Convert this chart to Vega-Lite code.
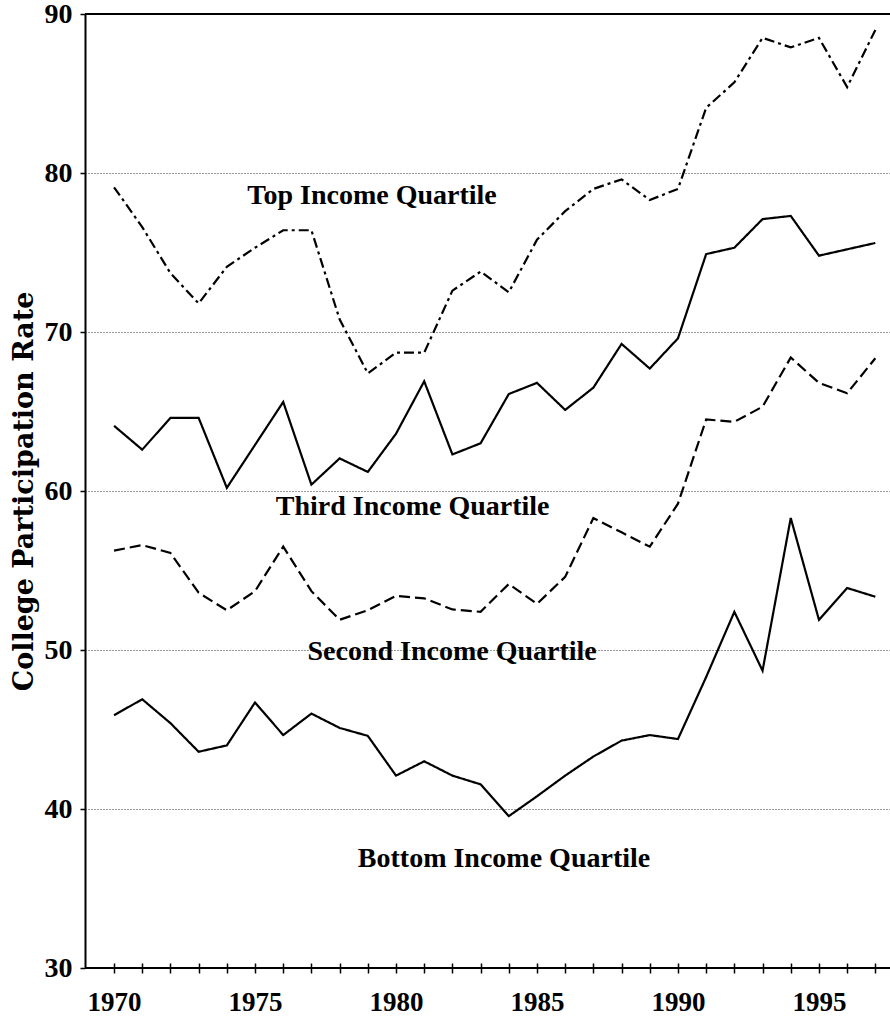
{
  "$schema": "https://vega.github.io/schema/vega-lite/v6.json",
  "width": 805,
  "height": 954,
  "autosize": {"type": "none"},
  "padding": {"left": 85, "top": 14, "right": 0, "bottom": 54},
  "background": "white",
  "config": {"view": {"stroke": null}, "axis": {"labelOverlap": false, "labelFlush": false}},
  "resolve": {"axis": {"x": "independent"}},
  "datasets": {
    "series": [
      {"year": 1970, "q": "Top", "rate": 79.1},
      {"year": 1971, "q": "Top", "rate": 76.6},
      {"year": 1972, "q": "Top", "rate": 73.7},
      {"year": 1973, "q": "Top", "rate": 71.8},
      {"year": 1974, "q": "Top", "rate": 74.1},
      {"year": 1975, "q": "Top", "rate": 75.3},
      {"year": 1976, "q": "Top", "rate": 76.4},
      {"year": 1977, "q": "Top", "rate": 76.4},
      {"year": 1978, "q": "Top", "rate": 70.8},
      {"year": 1979, "q": "Top", "rate": 67.4},
      {"year": 1980, "q": "Top", "rate": 68.7},
      {"year": 1981, "q": "Top", "rate": 68.7},
      {"year": 1982, "q": "Top", "rate": 72.6},
      {"year": 1983, "q": "Top", "rate": 73.8},
      {"year": 1984, "q": "Top", "rate": 72.5},
      {"year": 1985, "q": "Top", "rate": 75.8},
      {"year": 1986, "q": "Top", "rate": 77.6},
      {"year": 1987, "q": "Top", "rate": 79.0},
      {"year": 1988, "q": "Top", "rate": 79.6},
      {"year": 1989, "q": "Top", "rate": 78.3},
      {"year": 1990, "q": "Top", "rate": 79.0},
      {"year": 1991, "q": "Top", "rate": 84.1},
      {"year": 1992, "q": "Top", "rate": 85.7},
      {"year": 1993, "q": "Top", "rate": 88.5},
      {"year": 1994, "q": "Top", "rate": 87.9},
      {"year": 1995, "q": "Top", "rate": 88.5},
      {"year": 1996, "q": "Top", "rate": 85.4},
      {"year": 1997, "q": "Top", "rate": 89.0},
      {"year": 1970, "q": "Third", "rate": 64.1},
      {"year": 1971, "q": "Third", "rate": 62.6},
      {"year": 1972, "q": "Third", "rate": 64.6},
      {"year": 1973, "q": "Third", "rate": 64.6},
      {"year": 1974, "q": "Third", "rate": 60.2},
      {"year": 1975, "q": "Third", "rate": 62.9},
      {"year": 1976, "q": "Third", "rate": 65.6},
      {"year": 1977, "q": "Third", "rate": 60.4},
      {"year": 1978, "q": "Third", "rate": 62.05},
      {"year": 1979, "q": "Third", "rate": 61.2},
      {"year": 1980, "q": "Third", "rate": 63.6},
      {"year": 1981, "q": "Third", "rate": 66.9},
      {"year": 1982, "q": "Third", "rate": 62.3},
      {"year": 1983, "q": "Third", "rate": 63.0},
      {"year": 1984, "q": "Third", "rate": 66.1},
      {"year": 1985, "q": "Third", "rate": 66.8},
      {"year": 1986, "q": "Third", "rate": 65.1},
      {"year": 1987, "q": "Third", "rate": 66.5},
      {"year": 1988, "q": "Third", "rate": 69.25},
      {"year": 1989, "q": "Third", "rate": 67.7},
      {"year": 1990, "q": "Third", "rate": 69.6},
      {"year": 1991, "q": "Third", "rate": 74.9},
      {"year": 1992, "q": "Third", "rate": 75.3},
      {"year": 1993, "q": "Third", "rate": 77.1},
      {"year": 1994, "q": "Third", "rate": 77.3},
      {"year": 1995, "q": "Third", "rate": 74.8},
      {"year": 1996, "q": "Third", "rate": 75.2},
      {"year": 1997, "q": "Third", "rate": 75.6},
      {"year": 1970, "q": "Second", "rate": 56.25},
      {"year": 1971, "q": "Second", "rate": 56.6},
      {"year": 1972, "q": "Second", "rate": 56.1},
      {"year": 1973, "q": "Second", "rate": 53.6},
      {"year": 1974, "q": "Second", "rate": 52.5},
      {"year": 1975, "q": "Second", "rate": 53.7},
      {"year": 1976, "q": "Second", "rate": 56.5},
      {"year": 1977, "q": "Second", "rate": 53.7},
      {"year": 1978, "q": "Second", "rate": 51.9},
      {"year": 1979, "q": "Second", "rate": 52.5},
      {"year": 1980, "q": "Second", "rate": 53.4},
      {"year": 1981, "q": "Second", "rate": 53.25},
      {"year": 1982, "q": "Second", "rate": 52.55},
      {"year": 1983, "q": "Second", "rate": 52.4},
      {"year": 1984, "q": "Second", "rate": 54.15},
      {"year": 1985, "q": "Second", "rate": 52.9},
      {"year": 1986, "q": "Second", "rate": 54.6},
      {"year": 1987, "q": "Second", "rate": 58.3},
      {"year": 1988, "q": "Second", "rate": 57.4},
      {"year": 1989, "q": "Second", "rate": 56.5},
      {"year": 1990, "q": "Second", "rate": 59.2},
      {"year": 1991, "q": "Second", "rate": 64.5},
      {"year": 1992, "q": "Second", "rate": 64.35},
      {"year": 1993, "q": "Second", "rate": 65.3},
      {"year": 1994, "q": "Second", "rate": 68.4},
      {"year": 1995, "q": "Second", "rate": 66.8},
      {"year": 1996, "q": "Second", "rate": 66.15},
      {"year": 1997, "q": "Second", "rate": 68.35},
      {"year": 1970, "q": "Bottom", "rate": 45.9},
      {"year": 1971, "q": "Bottom", "rate": 46.9},
      {"year": 1972, "q": "Bottom", "rate": 45.4},
      {"year": 1973, "q": "Bottom", "rate": 43.6},
      {"year": 1974, "q": "Bottom", "rate": 44.0},
      {"year": 1975, "q": "Bottom", "rate": 46.7},
      {"year": 1976, "q": "Bottom", "rate": 44.65},
      {"year": 1977, "q": "Bottom", "rate": 46.0},
      {"year": 1978, "q": "Bottom", "rate": 45.1},
      {"year": 1979, "q": "Bottom", "rate": 44.6},
      {"year": 1980, "q": "Bottom", "rate": 42.1},
      {"year": 1981, "q": "Bottom", "rate": 43.0},
      {"year": 1982, "q": "Bottom", "rate": 42.1},
      {"year": 1983, "q": "Bottom", "rate": 41.55},
      {"year": 1984, "q": "Bottom", "rate": 39.55},
      {"year": 1985, "q": "Bottom", "rate": 40.8},
      {"year": 1986, "q": "Bottom", "rate": 42.1},
      {"year": 1987, "q": "Bottom", "rate": 43.3},
      {"year": 1988, "q": "Bottom", "rate": 44.3},
      {"year": 1989, "q": "Bottom", "rate": 44.65},
      {"year": 1990, "q": "Bottom", "rate": 44.4},
      {"year": 1991, "q": "Bottom", "rate": 48.3},
      {"year": 1992, "q": "Bottom", "rate": 52.4},
      {"year": 1993, "q": "Bottom", "rate": 48.7},
      {"year": 1994, "q": "Bottom", "rate": 58.3},
      {"year": 1995, "q": "Bottom", "rate": 51.9},
      {"year": 1996, "q": "Bottom", "rate": 53.9},
      {"year": 1997, "q": "Bottom", "rate": 53.35}
    ],
    "labels": [
      {"year": 1979.15, "rate": 78.05, "text": "Top Income Quartile"},
      {"year": 1980.59, "rate": 58.49, "text": "Third Income Quartile"},
      {"year": 1981.99, "rate": 49.37, "text": "Second Income Quartile"},
      {"year": 1983.83, "rate": 36.35, "text": "Bottom Income Quartile"}
    ],
    "frame": [
      {"rate": 90},
      {"rate": 30}
    ]
  },
  "layer": [
    {
      "data": {"name": "series"},
      "mark": {"type": "line", "strokeWidth": 2.2, "color": "black", "strokeCap": "butt"},
      "encoding": {
        "x": {
          "field": "year", "type": "quantitative",
          "scale": {"domain": [1968.97, 1997.52], "nice": false, "zero": false},
          "axis": {
            "orient": "bottom",
            "title": null,
            "values": [1970,1971,1972,1973,1974,1975,1976,1977,1978,1979,1980,1981,1982,1983,1984,1985,1986,1987,1988,1989,1990,1991,1992,1993,1994,1995,1996,1997],
            "labels": false,
            "domain": false,
            "grid": false,
            "offset": -5,
            "tickSize": 10,
            "tickWidth": 1.5,
            "tickColor": "black"
          }
        },
        "y": {
          "field": "rate", "type": "quantitative",
          "scale": {"domain": [30, 90], "nice": false, "zero": false},
          "axis": {
            "title": "College Participation Rate",
            "values": [30, 40, 50, 60, 70, 80, 90],
            "domainColor": "black",
            "domainWidth": 2,
            "tickColor": "black",
            "tickWidth": 1.5,
            "tickSize": 5,
            "grid": true,
            "gridColor": "#333333",
            "gridWidth": 1,
            "gridDash": [1, 2],
            "labelFont": "Liberation Serif",
            "labelFontWeight": "bold",
            "labelFontSize": 28,
            "labelColor": "black",
            "labelPadding": 8,
            "labelFlush": false,
            "titleFont": "DejaVu Serif",
            "titleFontWeight": "bold",
            "titleFontSize": 27,
            "titleColor": "black",
            "titlePadding": 6
          }
        },
        "detail": {"field": "q"},
        "strokeDash": {
          "field": "q", "type": "nominal",
          "scale": {"domain": ["Top", "Third", "Second", "Bottom"], "range": [[10, 4, 3, 4], [1, 0], [11, 5], [1, 0]]},
          "legend": null
        }
      }
    },
    {
      "data": {"name": "frame"},
      "mark": {"type": "rule", "color": "black", "strokeWidth": 2},
      "encoding": {"y": {"field": "rate", "type": "quantitative"}}
    },
    {
      "data": {"name": "labels"},
      "mark": {"type": "text", "font": "Liberation Serif", "fontWeight": "bold", "fontSize": 28, "color": "black", "align": "center", "baseline": "alphabetic"},
      "encoding": {
        "x": {
          "field": "year", "type": "quantitative",
          "axis": {
            "orient": "bottom",
            "title": null,
            "values": [1970, 1975, 1980, 1985, 1990, 1995],
            "format": "d",
            "domain": false,
            "ticks": false,
            "tickSize": 0,
            "grid": false,
            "labelFont": "Liberation Serif",
            "labelFontWeight": "bold",
            "labelFontSize": 27,
            "labelColor": "black",
            "labelPadding": 21,
            "labelFlush": false,
            "labelOverlap": false
          }
        },
        "y": {"field": "rate", "type": "quantitative"},
        "text": {"field": "text"}
      }
    }
  ]
}
